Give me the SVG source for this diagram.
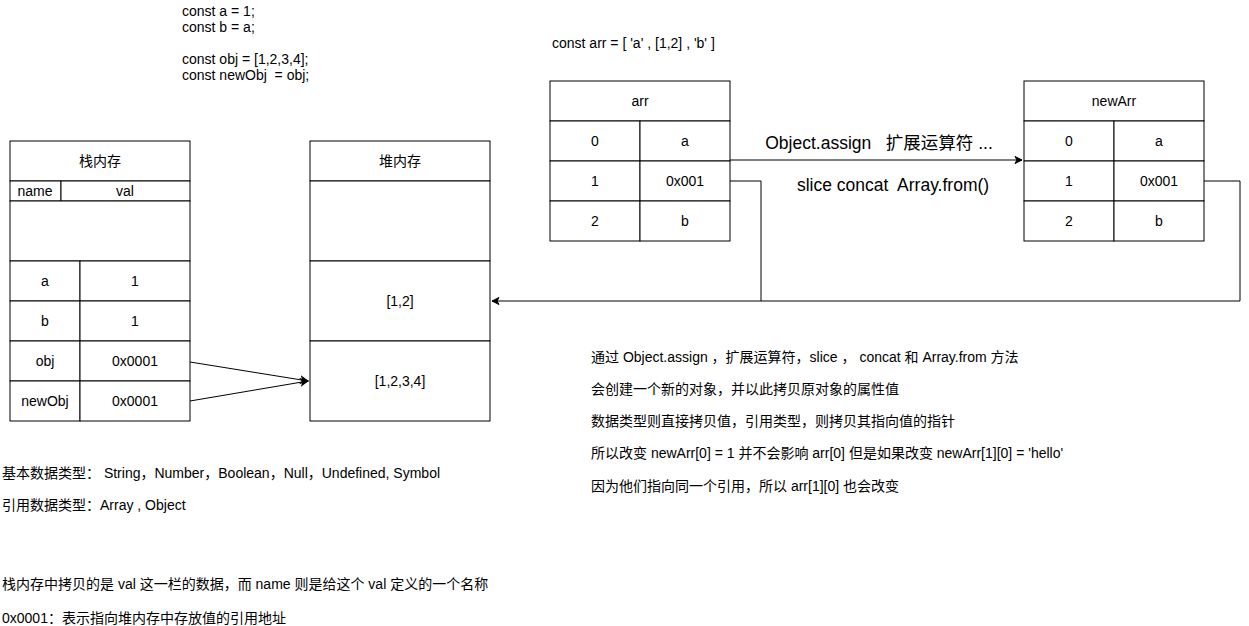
<svg xmlns="http://www.w3.org/2000/svg" width="1249" height="626" viewBox="0 0 1249 626" xml:space="preserve">
<style>
text{font-family:"Liberation Sans","Noto Sans CJK SC",sans-serif;font-size:14px;fill:#000;white-space:pre}
.c{text-anchor:middle;dominant-baseline:central}
.l{dominant-baseline:central}
.big{font-size:17.5px}
rect{fill:#fff;stroke:#000;stroke-width:1}
.ln{fill:none;stroke:#000;stroke-width:1}
</style>
<defs>
<marker id="ah" markerWidth="10" markerHeight="10" refX="8" refY="5" orient="auto" markerUnits="userSpaceOnUse">
<path d="M1,1.5 L8,5 L1,8.5 L3,5 Z" fill="#000" stroke="#000" stroke-width="1"/>
</marker>
</defs>
<rect x="0" y="0" width="1249" height="626" style="stroke:none"/>
<g id="code">
<text class="l" x="182" y="11">const a = 1;</text>
<text class="l" x="182" y="27">const b = a;</text>
<text class="l" x="182" y="59">const obj = [1,2,3,4];</text>
<text class="l" x="182" y="75">const newObj  = obj;</text>
<text class="l" x="552" y="43">const arr = [ 'a' , [1,2] , 'b' ]</text>
</g>
<g id="stack">
<rect x="10" y="141" width="180" height="40"/>
<text class="c" x="100" y="161">栈内存</text>
<rect x="10" y="181" width="51" height="20"/>
<text class="c" x="35" y="191">name</text>
<rect x="61" y="181" width="129" height="20"/>
<text class="c" x="125" y="191">val</text>
<rect x="10" y="201" width="180" height="60"/>
<rect x="10" y="261" width="70" height="40"/><text class="c" x="45" y="281">a</text>
<rect x="80" y="261" width="110" height="40"/><text class="c" x="135" y="281">1</text>
<rect x="10" y="301" width="70" height="40"/><text class="c" x="45" y="321">b</text>
<rect x="80" y="301" width="110" height="40"/><text class="c" x="135" y="321">1</text>
<rect x="10" y="341" width="70" height="40"/><text class="c" x="45" y="361">obj</text>
<rect x="80" y="341" width="110" height="40"/><text class="c" x="135" y="361">0x0001</text>
<rect x="10" y="381" width="70" height="40"/><text class="c" x="45" y="401">newObj</text>
<rect x="80" y="381" width="110" height="40"/><text class="c" x="135" y="401">0x0001</text>
</g>
<g id="heap">
<rect x="310" y="141" width="180" height="40"/>
<text class="c" x="400" y="161">堆内存</text>
<rect x="310" y="181" width="180" height="80"/>
<rect x="310" y="261" width="180" height="80"/>
<text class="c" x="400" y="301">[1,2]</text>
<rect x="310" y="341" width="180" height="80"/>
<text class="c" x="400" y="381">[1,2,3,4]</text>
</g>
<g id="arr">
<rect x="550" y="81" width="180" height="40"/>
<text class="c" x="640" y="101">arr</text>
<rect x="550" y="121" width="90" height="40"/><text class="c" x="595" y="141">0</text>
<rect x="640" y="121" width="90" height="40"/><text class="c" x="685" y="141">a</text>
<rect x="550" y="161" width="90" height="40"/><text class="c" x="595" y="181">1</text>
<rect x="640" y="161" width="90" height="40"/><text class="c" x="685" y="181">0x001</text>
<rect x="550" y="201" width="90" height="40"/><text class="c" x="595" y="221">2</text>
<rect x="640" y="201" width="90" height="40"/><text class="c" x="685" y="221">b</text>
</g>
<g id="newArr">
<rect x="1024" y="81" width="180" height="40"/>
<text class="c" x="1114" y="101">newArr</text>
<rect x="1024" y="121" width="90" height="40"/><text class="c" x="1069" y="141">0</text>
<rect x="1114" y="121" width="90" height="40"/><text class="c" x="1159" y="141">a</text>
<rect x="1024" y="161" width="90" height="40"/><text class="c" x="1069" y="181">1</text>
<rect x="1114" y="161" width="90" height="40"/><text class="c" x="1159" y="181">0x001</text>
<rect x="1024" y="201" width="90" height="40"/><text class="c" x="1069" y="221">2</text>
<rect x="1114" y="201" width="90" height="40"/><text class="c" x="1159" y="221">b</text>
</g>
<g id="connectors">
<line class="ln" x1="190" y1="362" x2="308" y2="381" marker-end="url(#ah)"/>
<line class="ln" x1="190" y1="401" x2="308" y2="381" marker-end="url(#ah)"/>
<polyline class="ln" points="730,181 761,181 761,301 492,301" marker-end="url(#ah)"/>
<polyline class="ln" points="1204,181 1240,181 1240,301 761,301"/>
<line class="ln" x1="730" y1="160" x2="1022" y2="160" marker-end="url(#ah)"/>
<text class="c big" x="879" y="143">Object.assign   扩展运算符 ...</text>
<text class="c big" x="893" y="185">slice concat  Array.from()</text>
</g>
<g id="notes">
<text class="l" x="591" y="357">通过 Object.assign ，扩展运算符，slice ， concat 和 Array.from 方法</text>
<text class="l" x="591" y="389">会创建一个新的对象，并以此拷贝原对象的属性值</text>
<text class="l" x="591" y="421">数据类型则直接拷贝值，引用类型，则拷贝其指向值的指针</text>
<text class="l" x="591" y="453">所以改变 newArr[0] = 1 并不会影响 arr[0] 但是如果改变 newArr[1][0] = 'hello'</text>
<text class="l" x="591" y="486">因为他们指向同一个引用，所以 arr[1][0] 也会改变</text>
<text class="l" x="2" y="473">基本数据类型： String，Number，Boolean，Null，Undefined, Symbol</text>
<text class="l" x="2" y="505">引用数据类型：Array , Object</text>
<text class="l" x="2" y="584">栈内存中拷贝的是 val 这一栏的数据，而 name 则是给这个 val 定义的一个名称</text>
<text class="l" x="2" y="618">0x0001：表示指向堆内存中存放值的引用地址</text>
</g>
</svg>
